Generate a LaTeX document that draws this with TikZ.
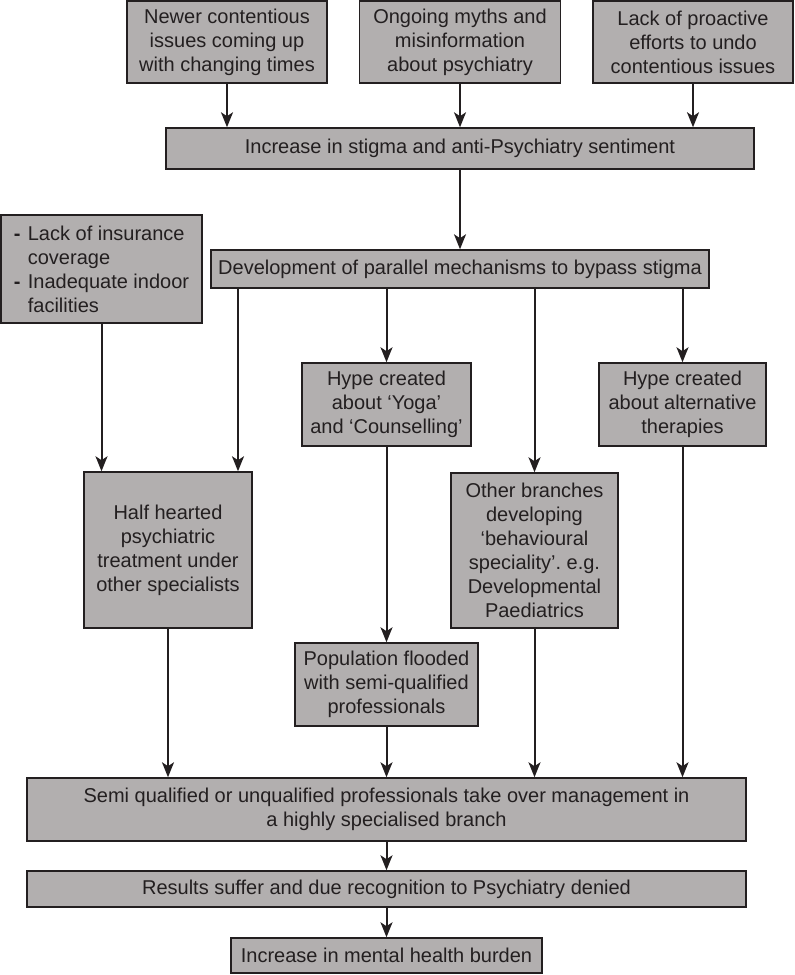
\documentclass[tikz,border=0pt]{standalone}
\usepackage{fontspec}
\setmainfont{Liberation Sans}
\usetikzlibrary{arrows.meta}
\definecolor{boxgrey}{RGB}{178,175,175}
\definecolor{inkgrey}{RGB}{35,31,32}

\begin{document}
\begin{tikzpicture}[x=0.5pt, y=-0.5pt]
  \tikzset{
    flow_box/.style n args={2}{
      draw=inkgrey, fill=boxgrey, line width=0.75pt, text=inkgrey,
      font=\fontsize{10}{12}\selectfont, align=center, inner sep=0pt,
      minimum width=#1, minimum height=#2},
    flow_arrow/.style={draw=inkgrey, line width=1pt,
      -{Stealth[length=7.5pt, width=6pt, inset=2pt]}}
  }
  \useasboundingbox (0,0) rectangle (795,975);

  % causes
  \node[flow_box={100pt}{41pt}] (newer) at (227, 42)
    {Newer contentious\\issues coming up\\with changing times};
  \node[flow_box={100.5pt}{41pt}] (myths) at (460, 42)
    {Ongoing myths and\\misinformation\\about psychiatry};
  \node[flow_box={100pt}{41pt}] (proactive) at (693, 42)
    {Lack of proactive\\efforts to undo\\contentious issues};
  \node[flow_box={294pt}{20.5pt}] (stigma) at (460, 148.5)
    {Increase in stigma and anti-Psychiatry sentiment};

  % side factors and parallel mechanisms
  \node[flow_box={100.5pt}{54pt}, align=left] (lack) at (101.5, 269)
    {\makebox[7pt][l]{\textbf{-}}Lack of insurance\\
     \hspace*{7pt}coverage\\
     \makebox[7pt][l]{\textbf{-}}Inadequate indoor\\
     \hspace*{7pt}facilities};
  \node[flow_box={249pt}{19pt}] (dev) at (460, 269)
    {Development of parallel mechanisms to bypass stigma};

  % hype
  \node[flow_box={84.5pt}{41.5pt}] (yoga) at (386.5, 404.5)
    {Hype created\\about ‘Yoga’\\and ‘Counselling’};
  \node[flow_box={83.5pt}{41.5pt}] (alt) at (682.5, 404.5)
    {Hype created\\about alternative\\therapies};

  % middle row
  \node[flow_box={84pt}{78pt}] (half) at (168, 550)
    {Half hearted\\psychiatric\\treatment under\\other specialists};
  \node[flow_box={83.5pt}{77.5pt}] (other) at (534.5, 550.5)
    {Other branches\\developing\\‘behavioural\\speciality’.\ e.g.\\Developmental\\Paediatrics};
  \node[flow_box={91.5pt}{41.5pt}] (pop) at (386.5, 684.5)
    {Population flooded\\with semi-qualified\\professionals};

  % outcome
  \node[flow_box={359.5pt}{31.5pt}] (semi) at (386.5, 809.5)
    {Semi qualified or unqualified professionals take over management in\\a highly specialised branch};
  \node[flow_box={359.5pt}{18pt}] (results) at (386.5, 889)
    {Results suffer and due recognition to Psychiatry denied};
  \node[flow_box={155.5pt}{17.5pt}] (burden) at (386.5, 955.5)
    {Increase in mental health burden};

  % arrows
  \draw[flow_arrow] (newer) -- (newer |- stigma.north);
  \draw[flow_arrow] (myths) -- (myths |- stigma.north);
  \draw[flow_arrow] (proactive) -- (proactive |- stigma.north);
  \draw[flow_arrow] (stigma) -- (dev);
  \draw[flow_arrow] (lack.south) -- (lack.south |- half.north);
  \draw[flow_arrow] ([xshift=35pt]half.north |- dev.south) -- ([xshift=35pt]half.north);
  \draw[flow_arrow] (dev.south -| yoga.north) -- (yoga.north);
  \draw[flow_arrow] (dev.south -| other.north) -- (other.north);
  \draw[flow_arrow] (dev.south -| alt.north) -- (alt.north);
  \draw[flow_arrow] (yoga) -- (pop);
  \draw[flow_arrow] (half.south) -- (half.south |- semi.north);
  \draw[flow_arrow] (pop) -- (semi);
  \draw[flow_arrow] (other.south) -- (other.south |- semi.north);
  \draw[flow_arrow] (alt.south) -- (alt.south |- semi.north);
  \draw[flow_arrow] (semi) -- (results);
  \draw[flow_arrow] (results) -- (burden);
\end{tikzpicture}
\end{document}
